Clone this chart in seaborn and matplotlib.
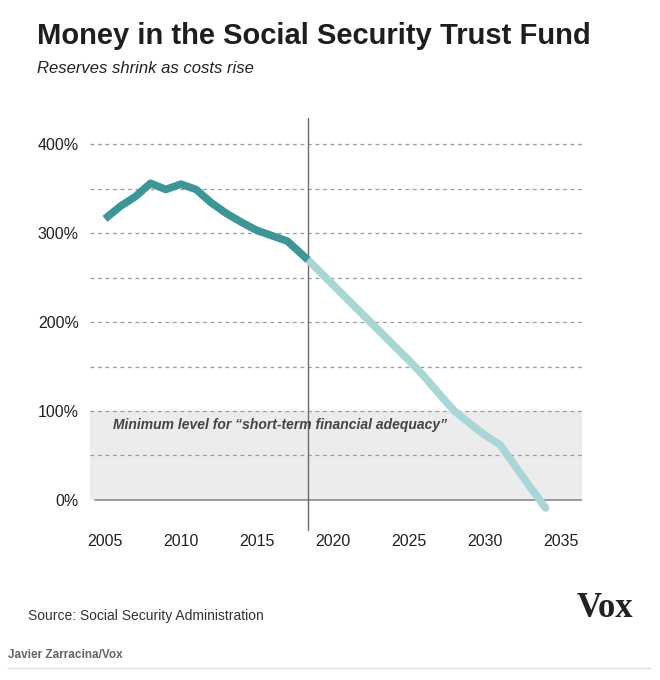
import numpy as np
import pandas as pd
import matplotlib
matplotlib.use("Agg")
import matplotlib.pyplot as plt
import seaborn as sns

# trust fund ratio, percent of annual cost
today = 2018.35
hist_years = [2005, 2006, 2007, 2008, 2009, 2010, 2011, 2012, 2013, 2014, 2015, 2016, 2017, today]
hist_ratio = [316, 330, 341, 356, 349, 355, 349, 334, 322, 312, 303, 297, 291, 270]
proj_years = [today, 2019, 2020, 2021, 2022, 2023, 2024, 2025, 2026, 2027, 2028, 2029, 2030, 2031, 2032, 2033, 2034]
proj_ratio = [270, 259, 242, 225, 208, 191, 174, 157, 139, 119, 100, 86, 73, 62, 38, 14, -9]
y_ticks = [0, 100, 200, 300, 400]
x_ticks = [2005, 2010, 2015, 2020, 2025, 2030, 2035]

hist = pd.DataFrame({"year": hist_years, "ratio": hist_ratio})
proj = pd.DataFrame({"year": proj_years, "ratio": proj_ratio})

sns.set_style("white")
plt.rcParams["font.family"] = ["Liberation Sans", "DejaVu Sans"]

fig = plt.figure(figsize=(6.6, 6.8), dpi=100)
ax = fig.add_axes([0.136, 0.219, 0.746, 0.607])

# shaded adequacy band
ax.axhspan(0, 100, color="#ececec", zorder=0, lw=0)
for g in range(50, 450, 50):
    ax.axhline(g, color="#9a9a9a", lw=0.9, ls=(0, (3, 3)), zorder=1)
ax.axhline(0, color="#8a8a8a", lw=1.2, xmin=0.01, zorder=1)
ax.axvline(today, color="#6a6a6a", lw=1.0, zorder=2)

sns.lineplot(data=proj, x="year", y="ratio", ax=ax, color="#a9d6d6", lw=5.5,
             solid_capstyle="round", zorder=3)
sns.lineplot(data=hist, x="year", y="ratio", ax=ax, color="#3b9698", lw=5.5,
             solid_capstyle="butt", zorder=4)

ax.text(2005.5, 84, "Minimum level for \u201cshort-term financial adequacy\u201d",
        fontsize=10, style="italic", fontweight="bold", color="#444444",
        va="center", ha="left")

ax.set_xlim(2004.0, 2036.4)
ax.set_ylim(-35, 429)
ax.set_xticks(x_ticks)
ax.set_xticklabels([str(t) for t in x_ticks])
ax.set_yticks(y_ticks)
ax.set_yticklabels([f"{t}%" for t in y_ticks])
ax.tick_params(axis="both", length=0, labelsize=11.5, colors="#222222")
ax.tick_params(axis="y", pad=8)
ax.tick_params(axis="x", pad=2)
ax.set_xlabel("")
ax.set_ylabel("")
sns.despine(ax=ax, left=True, bottom=True)

fig.text(0.056, 0.935, "Money in the Social Security Trust Fund",
         fontsize=21, fontweight="bold", color="#1e1e1e", ha="left", va="baseline")
fig.text(0.056, 0.893, "Reserves shrink as costs rise", fontsize=12,
         style="italic", color="#222222", ha="left", va="baseline")
fig.text(0.042, 0.088, "Source: Social Security Administration", fontsize=10,
         color="#333333", ha="left", va="baseline")
fig.text(0.873, 0.093, "Vox", fontsize=25, fontweight="bold", color="#222222",
         family=["Liberation Serif", "DejaVu Serif"], ha="left", va="baseline")
fig.text(0.012, 0.033, "Javier Zarracina/Vox", fontsize=8.5, fontweight="bold",
         color="#666666", ha="left", va="baseline")
fig.add_artist(plt.Line2D([0.012, 0.985], [0.017, 0.017], color="#dddddd", lw=1))

fig.savefig("out.png", dpi=100)
